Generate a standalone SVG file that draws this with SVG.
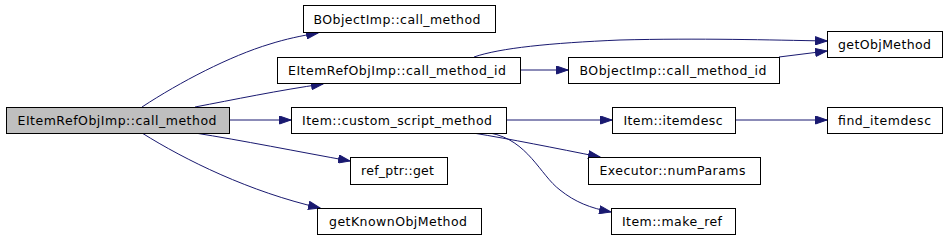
<svg xmlns="http://www.w3.org/2000/svg" width="949" height="240" viewBox="0 0 949 240">
<style>
.n rect{fill:#ffffff;stroke:#000000;stroke-width:1}
.n.root rect{fill:#bfbfbf}
.n text{font-family:"DejaVu Sans",sans-serif;font-size:12.5px;fill:#000000;text-anchor:middle}
.e path{fill:none;stroke:#191970;stroke-width:1}
</style>
<defs>
<marker id="ah" markerUnits="userSpaceOnUse" markerWidth="13" markerHeight="9" refX="12" refY="4.5" orient="auto">
<path d="M0.5,0.5 L12,4.5 L0.5,8.5 z" fill="#191970" stroke="#191970" stroke-width="1"/>
</marker>
</defs>
<rect width="949" height="240" fill="#ffffff"/>
<g id="edges" class="e">
<path d="M142,107 C180,82 230,56 270,44 C286,39 300,36 318,33" marker-end="url(#ah)"/>
<path d="M195,107 C232,100 280,90 323,84" marker-end="url(#ah)"/>
<path d="M229,120 L291,120" marker-end="url(#ah)"/>
<path d="M195,133 C240,140 300,152 350,161" marker-end="url(#ah)"/>
<path d="M142,133 C185,160 250,192 320,208" marker-end="url(#ah)"/>
<path d="M474,57 C500,48 550,43 620,40 C700,38 770,40 827,41" marker-end="url(#ah)"/>
<path d="M520,70 L568,70" marker-end="url(#ah)"/>
<path d="M779,57 L827,51" marker-end="url(#ah)"/>
<path d="M506,120 L612,120" marker-end="url(#ah)"/>
<path d="M735,120 L827,120" marker-end="url(#ah)"/>
<path d="M473,133 C510,139 555,148 600,157" marker-end="url(#ah)"/>
<path d="M490,133 C528,140 540,175 560,190 C575,202 590,208 611,212" marker-end="url(#ah)"/>
</g>
<g id="n_main" class="n root"><rect x="6.5" y="107.5" width="223" height="26"/><text x="117" y="124.5" textLength="199" lengthAdjust="spacing">EItemRefObjImp::call_method</text></g>
<g id="n_bobj_call" class="n"><rect x="303.5" y="5.5" width="192" height="27"/><text x="397" y="23.5" textLength="167" lengthAdjust="spacing">BObjectImp::call_method</text></g>
<g id="n_eitem_callid" class="n"><rect x="277.5" y="57.5" width="243" height="26"/><text x="397" y="74.5" textLength="218" lengthAdjust="spacing">EItemRefObjImp::call_method_id</text></g>
<g id="n_custom" class="n"><rect x="291.5" y="107.5" width="215" height="26"/><text x="397" y="124.5" textLength="190" lengthAdjust="spacing">Item::custom_script_method</text></g>
<g id="n_refptr" class="n"><rect x="350.5" y="157.5" width="97" height="27"/><text x="397.5" y="175" textLength="73" lengthAdjust="spacing">ref_ptr::get</text></g>
<g id="n_getknown" class="n"><rect x="317.5" y="208.5" width="164" height="26"/><text x="398" y="225.5" textLength="138" lengthAdjust="spacing">getKnownObjMethod</text></g>
<g id="n_getobj" class="n"><rect x="827.5" y="31.5" width="115" height="26"/><text x="884.5" y="48.5" textLength="93" lengthAdjust="spacing">getObjMethod</text></g>
<g id="n_bobj_callid" class="n"><rect x="568.5" y="57.5" width="211" height="26"/><text x="673" y="74.5" textLength="187" lengthAdjust="spacing">BObjectImp::call_method_id</text></g>
<g id="n_itemdesc" class="n"><rect x="612.5" y="107.5" width="123" height="26"/><text x="673" y="124.5" textLength="99" lengthAdjust="spacing">Item::itemdesc</text></g>
<g id="n_find" class="n"><rect x="827.5" y="107.5" width="115" height="26"/><text x="884.5" y="124.5" textLength="93" lengthAdjust="spacing">find_itemdesc</text></g>
<g id="n_numparams" class="n"><rect x="588.5" y="157.5" width="172" height="27"/><text x="672.5" y="175" textLength="146" lengthAdjust="spacing">Executor::numParams</text></g>
<g id="n_makeref" class="n"><rect x="611.5" y="208.5" width="124" height="26"/><text x="672" y="225.5" textLength="100" lengthAdjust="spacing">Item::make_ref</text></g>
</svg>
